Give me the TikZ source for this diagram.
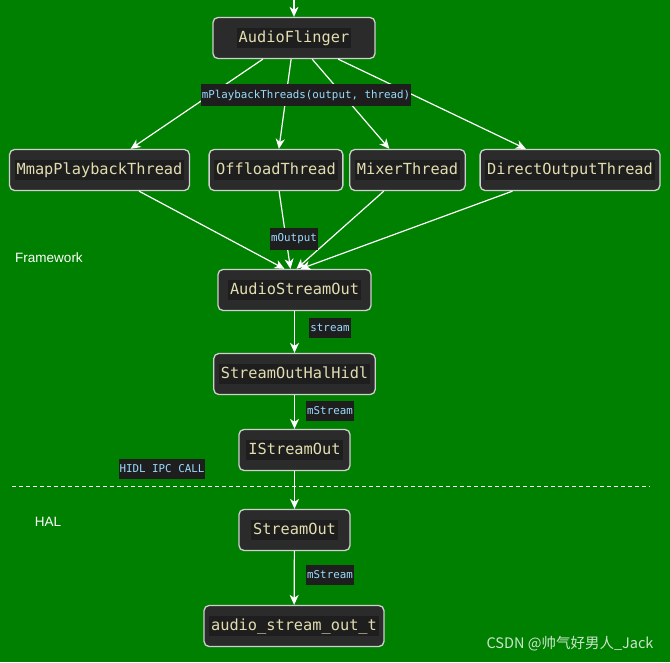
\documentclass[tikz,border=0pt]{standalone}
\usepackage{fontspec}
\setmainfont{Liberation Sans}
\setmonofont{DejaVu Sans Mono}
\newfontfamily\cjk{Noto Sans CJK SC}
\usepackage{tikz}
\usetikzlibrary{arrows.meta}
\definecolor{bggreen}{HTML}{008000}
\definecolor{boxfill}{HTML}{2B2B2B}
\definecolor{boxedge}{HTML}{D0D0D0}
\definecolor{codebg}{HTML}{1E1E1E}
\definecolor{codefg}{HTML}{E2DDB0}
\definecolor{labfg}{HTML}{9CDCFE}
\setlength{\fboxsep}{2pt}
\newcommand{\codetext}[1]{\colorbox{codebg}{\rule[-3.5pt]{0pt}{16pt}#1}}
\tikzset{
  x=1pt, y=-1pt,
  >={Stealth[length=10pt, width=9pt, inset=3pt]},
  cls/.style  ={draw=boxedge, line width=1.3pt, rounded corners=5pt, fill=boxfill,
                minimum width=111pt, minimum height=41pt, inner xsep=5pt,
                text=codefg, font=\fontsize{15.3}{18}\selectfont\ttfamily},
  lbl/.style  ={fill=codebg, text=labfg, inner xsep=1pt, inner ysep=6pt,
                font=\fontsize{10.8}{12}\selectfont\ttfamily},
  layer/.style={text=white, font=\fontsize{13.5}{16}\selectfont},
  flow/.style ={->, draw=white, line width=1.2pt}
}
\begin{document}
\begin{tikzpicture}
\fill[bggreen] (0,0) rectangle (670,662);
\useasboundingbox (0,0) rectangle (670,662);
\node[cls, minimum width=162pt] (af) at (294,38) {\codetext{AudioFlinger}};
\node[cls] (mmap)    at (99.5,170) {\codetext{MmapPlaybackThread}};
\node[cls] (offload) at (276,170)  {\codetext{OffloadThread}};
\node[cls] (mixer)   at (407.5,170){\codetext{MixerThread}};
\node[cls] (direct)  at (570,170)  {\codetext{DirectOutputThread}};
\node[cls, minimum width=153pt] (aso) at (294.5,290){\codetext{AudioStreamOut}};
\node[cls] (hidl)    at (294.5,374){\codetext{StreamOutHalHidl}};
\node[cls] (iso)     at (294.5,450){\codetext{IStreamOut}};
\node[cls] (so)      at (294.5,530){\codetext{StreamOut}};
\node[cls] (sot)     at (294,626)  {\codetext{audio\_stream\_out\_t}};
\coordinate (top) at (294,0);
% edges
\draw[flow] (top) -- (af);
\draw[flow] (af) -- (mmap);
\draw[flow] (af) -- (offload);
\draw[flow] (af) -- (mixer);
\draw[flow] (af) -- (direct);
\draw[flow] (mmap) -- ([xshift=-10pt]aso.north);
\draw[flow] (offload) -- ([xshift=-4pt]aso.north);
\draw[flow] (mixer) -- ([xshift=2pt]aso.north);
\draw[flow] (direct) -- ([xshift=6pt]aso.north);
\draw[flow] (aso) -- (hidl);
\draw[flow] (hidl) -- (iso);
\draw[flow] (iso) -- (so);
\draw[flow] (so) -- (sot);
% edge labels
\node[lbl] (pt)   at (306,95)  {mPlaybackThreads(output, thread)};
\node[lbl] (mout) at (294,239) {mOutput};
\node[lbl] (strm) at (330,328) {stream};
\node[lbl] (ms1)  at (330,411) {mStream};
\node[lbl] (ms2)  at (330,575) {mStream};
\node[lbl] (ipc)  at (162,469) {HIDL IPC CALL};
% layers
\coordinate (sepl) at (12,486);
\coordinate (sepr) at (650,486);
\draw[white, line width=0.8pt, dash pattern=on 4pt off 3pt] (sepl) -- (sepr);
\node[layer] (fw)  at (49,258) {Framework};
\node[layer] (hal) at (48,522) {HAL};
\node[text=white!80!bggreen, font=\fontsize{14.5}{16}\cjk] (mark) at (570,644) {CSDN @帅气好男人\_Jack};
\end{tikzpicture}
\end{document}
